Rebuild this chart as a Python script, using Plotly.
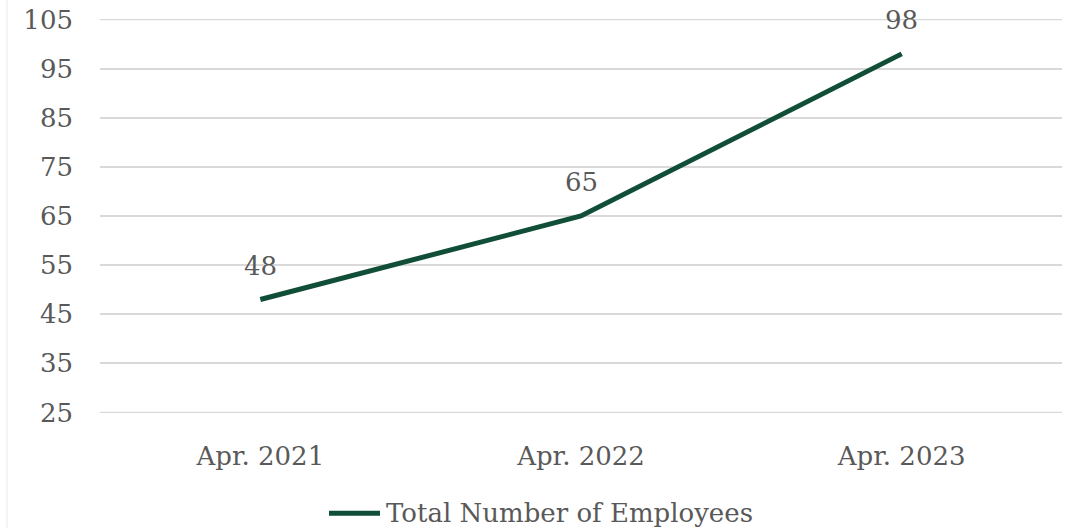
import plotly.graph_objects as go

# Headcount by year
periods = ["Apr. 2021", "Apr. 2022", "Apr. 2023"]
employees = [48, 65, 98]
series_name = "Total Number of Employees"
y_ticks = [25, 35, 45, 55, 65, 75, 85, 95, 105]

LINE_COLOR = "#114e38"
TEXT_COLOR = "#595959"
GRID_COLOR = "#d9d9d9"
FONT = "DejaVu Serif"
FONT_SIZE = 26

fig = go.Figure()

# gridlines at the two ends of the value axis (drawn explicitly, under the data)
for yv in (y_ticks[0], y_ticks[-1]):
    fig.add_shape(
        type="line", xref="paper", yref="y", x0=0, x1=1, y0=yv, y1=yv,
        line=dict(color=GRID_COLOR, width=1.5), layer="below",
    )

fig.add_trace(
    go.Scatter(
        x=periods,
        y=employees,
        mode="lines",
        name=series_name,
        line=dict(color=LINE_COLOR, width=5),
        cliponaxis=False,
        showlegend=False,
    )
)

# value labels above each point
for p, v in zip(periods, employees):
    fig.add_annotation(
        x=p, y=v, text=str(v), showarrow=False,
        yshift=34, font=dict(family=FONT, size=FONT_SIZE, color=TEXT_COLOR),
    )

# legend entry: line sample + series name below the plot
fig.add_shape(
    type="line", xref="paper", yref="paper",
    x0=(329 - 100) / 962, x1=(380 - 100) / 962,
    y0=-0.2545, y1=-0.2545,
    line=dict(color=LINE_COLOR, width=5),
)
fig.add_annotation(
    xref="paper", yref="paper", x=(384 - 100) / 962, y=-0.2545,
    xanchor="left", yanchor="middle", showarrow=False,
    text=series_name, font=dict(family=FONT, size=FONT_SIZE, color=TEXT_COLOR),
)

# faint outer border on the left edge
fig.add_shape(
    type="line", xref="paper", yref="paper",
    x0=-0.0967, x1=-0.0967, y0=-0.3, y1=1.06,
    line=dict(color="#f0f0f0", width=1.5),
)

fig.update_layout(
    width=1084,
    height=528,
    margin=dict(l=100, r=22, t=19, b=115, autoexpand=False),
    paper_bgcolor="white",
    plot_bgcolor="white",
    font=dict(family=FONT, size=FONT_SIZE, color=TEXT_COLOR),
    showlegend=False,
    xaxis=dict(
        type="category",
        range=[-0.5, 2.5],
        showgrid=False,
        showline=False,
        zeroline=False,
        ticks="",
        ticklabelstandoff=25,
    ),
    yaxis=dict(
        range=[24.9, 105.1],
        tickvals=y_ticks,
        showgrid=True,
        gridcolor=GRID_COLOR,
        gridwidth=1.5,
        zeroline=False,
        showline=False,
        ticks="",
        ticklabelstandoff=26,
    ),
)

fig.write_html("out.html")
